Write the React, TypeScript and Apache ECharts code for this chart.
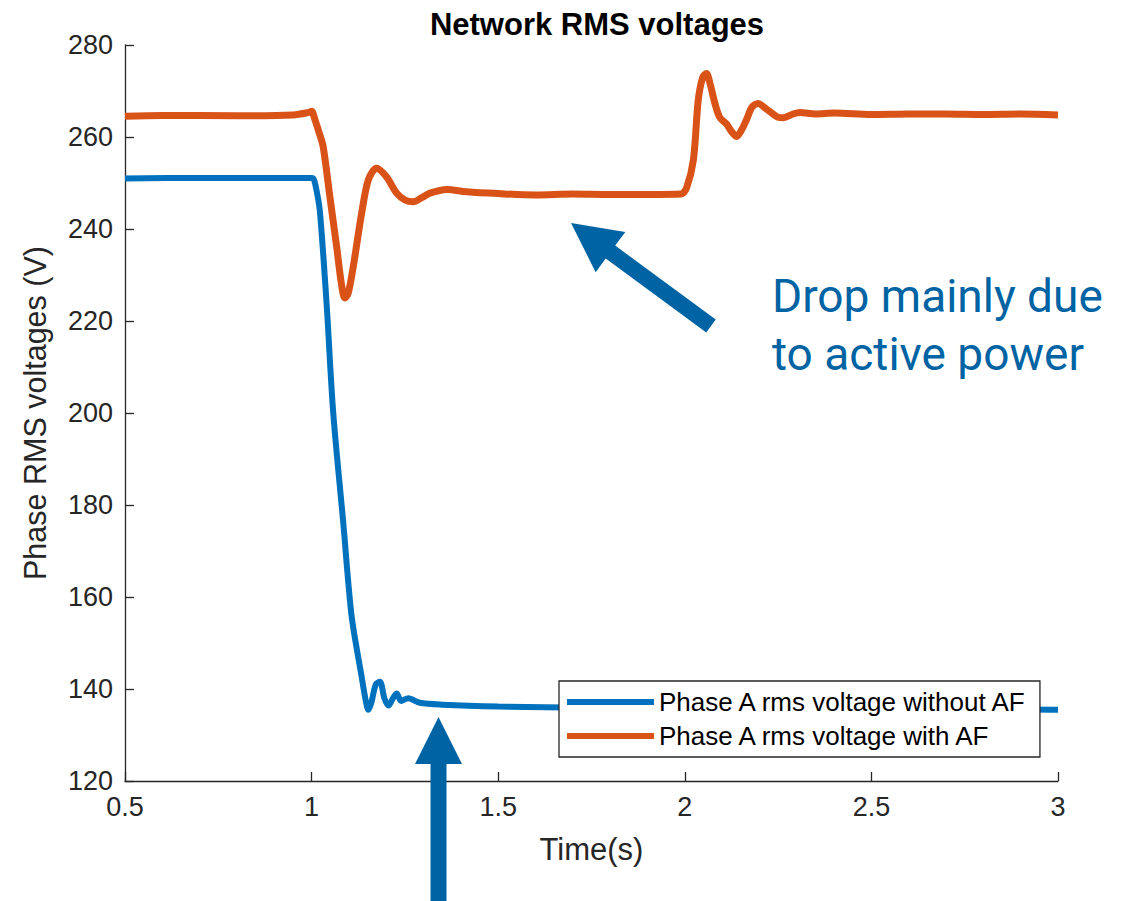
import React, { useEffect, useRef } from "react";
import * as echarts from "echarts";

// ---- data ----
const xTicks = [0.5, 1, 1.5, 2, 2.5, 3];
const yTicks = [120, 140, 160, 180, 200, 220, 240, 260, 280];

const seriesNames = ["Phase A rms voltage without AF", "Phase A rms voltage with AF"];

const timeWithoutAF = [
  0.5, 0.7, 0.9, 1.0, 1.006, 1.013, 1.022, 1.04, 1.058, 1.085, 1.107, 1.134, 1.145,
  1.152, 1.16, 1.172, 1.183, 1.195, 1.206, 1.218, 1.228, 1.24, 1.259, 1.29, 1.35,
  1.5, 1.75, 2.0, 2.5, 3.0,
];
const voltWithoutAF = [
  251.0, 251.1, 251.1, 251.1, 250.8, 248.5, 244.0, 224.0, 200.0, 176.0, 156.0, 142.7, 137.5,
  135.5, 137.0, 141.0, 141.6, 138.0, 136.4, 138.0, 139.0, 137.4, 138.0, 137.0, 136.6,
  136.2, 135.9, 135.7, 135.6, 135.5,
];

const timeWithAF = [
  0.5, 0.6, 0.8, 0.95, 0.99, 1.0, 1.008, 1.02, 1.031, 1.049, 1.067, 1.08, 1.089, 1.098,
  1.112, 1.134, 1.152, 1.174, 1.2, 1.228, 1.25, 1.272, 1.295, 1.317, 1.362, 1.415, 1.5,
  1.6, 1.7, 1.8, 1.9, 1.99, 2.005, 2.023, 2.036, 2.048, 2.058, 2.068, 2.08, 2.094, 2.112,
  2.125, 2.139, 2.152, 2.165, 2.18, 2.197, 2.212, 2.228, 2.25, 2.264, 2.29, 2.309, 2.35,
  2.4, 2.5, 2.6, 2.7, 2.8, 2.9, 3.0,
];
const voltWithAF = [
  264.5, 264.7, 264.6, 264.8, 265.3, 265.6, 264.0, 261.0, 257.9, 247.0, 236.2, 228.0, 225.0, 226.0,
  232.0, 243.4, 250.7, 253.2, 251.4, 247.8, 246.3, 245.9, 246.8, 247.8, 248.6, 248.1, 247.7,
  247.4, 247.6, 247.5, 247.5, 247.6, 249.0, 255.0, 268.0, 273.0, 273.8, 271.5, 267.5, 264.2, 262.8,
  261.2, 260.1, 261.5, 263.7, 266.5, 267.3, 266.5, 265.5, 264.3, 264.2, 265.0, 265.3, 265.0,
  265.2, 264.9, 265.0, 265.0, 264.9, 265.0, 264.8,
];

const titleText = "Network RMS voltages";
const xName = "Time(s)";
const yName = "Phase RMS voltages (V)";
const noteLines = ["Drop mainly due", "to active power"];

// ---- helpers ----
function arrowPoints(
  tip: [number, number],
  tail: [number, number],
  shaftW: number,
  headLen: number,
  headHalf: number
): number[][] {
  const dx = tip[0] - tail[0];
  const dy = tip[1] - tail[1];
  const len = Math.hypot(dx, dy);
  const ux = dx / len, uy = dy / len;
  const nx = -uy, ny = ux;
  const bx = tip[0] - ux * headLen, by = tip[1] - uy * headLen;
  const s = shaftW / 2;
  return [
    [tail[0] + nx * s, tail[1] + ny * s],
    [bx + nx * s, by + ny * s],
    [bx + nx * headHalf, by + ny * headHalf],
    [tip[0], tip[1]],
    [bx - nx * headHalf, by - ny * headHalf],
    [bx - nx * s, by - ny * s],
    [tail[0] - nx * s, tail[1] - ny * s],
  ];
}

const AXIS = "#262626";
const BLUE = "#0072BD";
const ORANGE = "#D95319";
const NOTE = "#0063A3";
const FONT = "'Liberation Sans', Arial, Helvetica, sans-serif";

export default function App() {
  const ref = useRef<HTMLDivElement | null>(null);

  useEffect(() => {
    if (!ref.current) return;
    const chart = echarts.init(ref.current, undefined, { renderer: "svg" });
    const blueData = timeWithoutAF.map((t, i) => [t, voltWithoutAF[i]]);
    const orangeData = timeWithAF.map((t, i) => [t, voltWithAF[i]]);

    chart.setOption({
      animation: false,
      backgroundColor: "#ffffff",
      textStyle: { fontFamily: FONT },
      title: {
        text: titleText,
        left: 592,
        textAlign: "center",
        top: 4,
        textStyle: { fontFamily: FONT, fontSize: 31, fontWeight: "bold", color: "#000" },
      },
      grid: { left: 125, right: 71, top: 45, bottom: 120, containLabel: false },
      xAxis: {
        type: "value",
        min: xTicks[0],
        max: xTicks[xTicks.length - 1],
        interval: xTicks[1] - xTicks[0],
        name: xName,
        nameLocation: "middle",
        nameGap: 53,
        nameTextStyle: { fontFamily: FONT, fontSize: 31, color: AXIS },
        axisLine: { show: true, lineStyle: { color: AXIS, width: 1.3 } },
        axisTick: { show: true, inside: true, length: 9, lineStyle: { color: AXIS, width: 1.3 } },
        axisLabel: { fontFamily: FONT, fontSize: 27, color: AXIS, margin: 12 },
        splitLine: { show: false },
      },
      yAxis: {
        type: "value",
        min: yTicks[0],
        max: yTicks[yTicks.length - 1],
        interval: yTicks[1] - yTicks[0],
        name: yName,
        nameLocation: "middle",
        nameGap: 75,
        nameTextStyle: { fontFamily: FONT, fontSize: 30.5, color: AXIS },
        axisLine: { show: true, lineStyle: { color: AXIS, width: 1.3 } },
        axisTick: { show: true, inside: true, length: 9, lineStyle: { color: AXIS, width: 1.3 } },
        axisLabel: { fontFamily: FONT, fontSize: 27, color: AXIS, margin: 12 },
        splitLine: { show: false },
      },
      legend: {
        data: seriesNames,
        orient: "vertical",
        left: 559,
        top: 681,
        icon: "rect",
        itemWidth: 87,
        itemHeight: 6,
        itemGap: 8,
        padding: [8, 11, 8, 8],
        backgroundColor: "#ffffff",
        borderColor: AXIS,
        borderWidth: 1.3,
        borderRadius: 0,
        textStyle: { fontFamily: FONT, fontSize: 26, color: "#000" },
      },
      series: [
        {
          name: seriesNames[0],
          type: "line",
          data: blueData,
          showSymbol: false,
          symbol: "none",
          smooth: 0.3,
          lineStyle: { color: BLUE, width: 6 },
          itemStyle: { color: BLUE },
          z: 2,
        },
        {
          name: seriesNames[1],
          type: "line",
          data: orangeData,
          showSymbol: false,
          symbol: "none",
          smooth: 0.3,
          lineStyle: { color: ORANGE, width: 7 },
          itemStyle: { color: ORANGE },
          z: 3,
        },
      ],
      graphic: [
        {
          type: "polygon",
          z: 100,
          shape: { points: arrowPoints([571, 223], [711, 326], 16, 49, 25) },
          style: { fill: NOTE },
        },
        {
          type: "polygon",
          z: 100,
          shape: { points: arrowPoints([438.5, 717], [438.5, 910], 16, 47, 23.5) },
          style: { fill: NOTE },
        },
        {
          type: "text",
          z: 100,
          x: 772,
          y: 296,
          style: {
            text: noteLines[0],
            fontFamily: "Roboto, 'Noto Sans', sans-serif",
            fontSize: 46,
            fill: NOTE,
            verticalAlign: "middle",
          },
        },
        {
          type: "text",
          z: 100,
          x: 772,
          y: 354,
          style: {
            text: noteLines[1],
            fontFamily: "Roboto, 'Noto Sans', sans-serif",
            fontSize: 46,
            fill: NOTE,
            verticalAlign: "middle",
          },
        },
      ],
    });

    return () => chart.dispose();
  }, []);

  return (
    <div
      ref={ref}
      style={{ position: "fixed", left: 0, top: 0, width: 1129, height: 901, background: "#fff" }}
    />
  );
}
